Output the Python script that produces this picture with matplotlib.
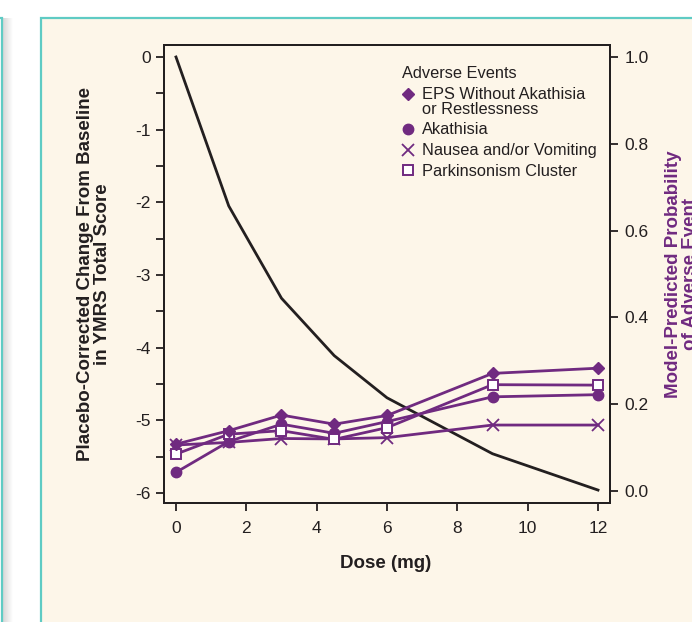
# Dose-response: YMRS change vs model-predicted adverse event probability

import numpy as np
import matplotlib
matplotlib.use("Agg")
import matplotlib.pyplot as plt
from matplotlib.patches import Rectangle
from matplotlib.ticker import MultipleLocator
from matplotlib.lines import Line2D
from matplotlib.legend_handler import HandlerLine2D

plt.rcParams["font.family"] = ["Liberation Sans", "DejaVu Sans"]
plt.rcParams["axes.unicode_minus"] = False

# ── data ─────────────────────────────────────────────────────
dose = [0, 1.5, 3, 4.5, 6, 9, 12]
ymrs_change = [0, -2.05, -3.32, -4.11, -4.69, -5.46, -5.96]

eps = [0.108, 0.139, 0.175, 0.154, 0.174, 0.271, 0.283]
akathisia = [0.043, 0.114, 0.154, 0.133, 0.160, 0.217, 0.222]
nausea = [0.106, 0.112, 0.121, 0.120, 0.123, 0.152, 0.152]
parkinsonism = [0.085, 0.131, 0.139, 0.119, 0.146, 0.245, 0.244]

x_ticks = [0, 2, 4, 6, 8, 10, 12]
left_ticks = [0, -1, -2, -3, -4, -5, -6]
right_ticks = [0.0, 0.2, 0.4, 0.6, 0.8, 1.0]

# ── colours ──────────────────────────────────────────────────
CREAM = "#fdf6e9"
TEAL = "#5fcbc4"
PURPLE = "#702a80"
INK = "#231f20"


# legend handler that puts the marker on the first line of a 2-line label
class TopLineHandler(HandlerLine2D):
    def create_artists(self, legend, orig_handle, xdescent, ydescent,
                       width, height, fontsize, trans):
        arts = super().create_artists(legend, orig_handle, xdescent, ydescent,
                                      width, height, fontsize, trans)
        for a in arts:
            a.set_ydata(np.asarray(a.get_ydata()) + 0.5 * fontsize)
        return arts


W, H = 692, 622
fig = plt.figure(figsize=(W / 100, H / 100), dpi=100, facecolor="white")

# background panels (pixel coordinates)
bg = fig.add_axes([0, 0, 1, 1])
bg.set_xlim(0, W)
bg.set_ylim(H, 0)
bg.axis("off")
bg.add_patch(Rectangle((-20, 17.5), 21.5, 700, facecolor="white",
                       edgecolor=TEAL, lw=1.6))
grad = np.linspace(0.84, 1.0, 50).reshape(1, -1)
bg.imshow(grad, cmap="gray", vmin=0, vmax=1, aspect="auto",
          extent=[2.5, 12, H, 18.5], zorder=0)
bg.add_patch(Rectangle((41, 18), 700, 700, facecolor=CREAM,
                       edgecolor=TEAL, lw=1.6))

# main axes
ax = fig.add_axes([164 / W, 119 / H, 446 / W, 458 / H])
ax.patch.set_alpha(0)
ax.plot(dose, ymrs_change, color=INK, lw=2.0, zorder=3)
ax.set_xlim(-0.341, 12.341)
ax.set_ylim(-6.138, 0.165)
ax.set_xticks(x_ticks)
ax.set_yticks(left_ticks)
ax.set_yticklabels([str(t) for t in left_ticks])
ax.yaxis.set_minor_locator(MultipleLocator(0.5))

ax2 = ax.twinx()
ax2.set_ylim(-0.0276, 1.0276)
ax2.set_yticks(right_ticks)
ax2.set_yticklabels([f"{t:.1f}" for t in right_ticks])

kw = dict(color=PURPLE, lw=2.0)
ax2.plot(dose, nausea, marker="x", ms=8, mew=1.3, **kw)
ax2.plot(dose, akathisia, marker="o", ms=7.5, **kw)
ax2.plot(dose, parkinsonism, marker="s", ms=6.5, mfc="white", mew=1.4, **kw)
ax2.plot(dose, eps, marker="D", ms=6.5, **kw)

for a in (ax, ax2):
    for s in a.spines.values():
        s.set_color(INK)
        s.set_linewidth(1.4)
ax.tick_params(axis="both", which="both", direction="out", length=6, width=1.3,
               color=INK, labelcolor=INK, labelsize=12.5)
ax.tick_params(axis="y", pad=3.5)
ax.tick_params(axis="x", pad=7)
ax2.tick_params(axis="y", direction="out", length=6, width=1.3, color=INK,
                labelcolor=INK, labelsize=12.5, pad=4.3)

# legend (markers only)
h_eps = Line2D([], [], ls="none", marker="D", ms=6.5, color=PURPLE)
h_aka = Line2D([], [], ls="none", marker="o", ms=7.5, color=PURPLE)
h_nau = Line2D([], [], ls="none", marker="x", ms=8, mew=1.3, color=PURPLE)
h_par = Line2D([], [], ls="none", marker="s", ms=6.5, mfc="white", mew=1.4, color=PURPLE)
labels = ["EPS Without Akathisia\nor Restlessness", "Akathisia",
          "Nausea and/or Vomiting", "Parkinsonism Cluster"]
leg = ax2.legend([h_eps, h_aka, h_nau, h_par], labels, title="Adverse Events",
                 loc="upper left", bbox_to_anchor=(0.534, 0.955), frameon=False,
                 fontsize=11.8, title_fontsize=11.8, alignment="left",
                 borderpad=0, borderaxespad=0, handlelength=0.75,
                 handletextpad=0.45, labelspacing=0.36,
                 handler_map={h_eps: TopLineHandler()})
for t in leg.get_texts():
    t.set_color(INK)
    t.set_linespacing(1.0)
leg.get_title().set_color(INK)

# axis titles
fig.text(94 / W, 1 - 274 / H, "Placebo-Corrected Change From Baseline\nin YMRS Total Score",
         rotation=90, ha="center", va="center", fontsize=13.5, fontweight="bold",
         color=INK, linespacing=1.0)
fig.text(682 / W, 1 - 274 / H, "Model-Predicted Probability\nof Adverse Event",
         rotation=90, ha="center", va="center", fontsize=13.5, fontweight="bold",
         color=PURPLE, linespacing=1.0)
fig.text(386 / W, 1 - 563 / H, "Dose (mg)", ha="center", va="center",
         fontsize=13.5, fontweight="bold", color=INK)

fig.savefig("out.png", dpi=100, facecolor="white")
